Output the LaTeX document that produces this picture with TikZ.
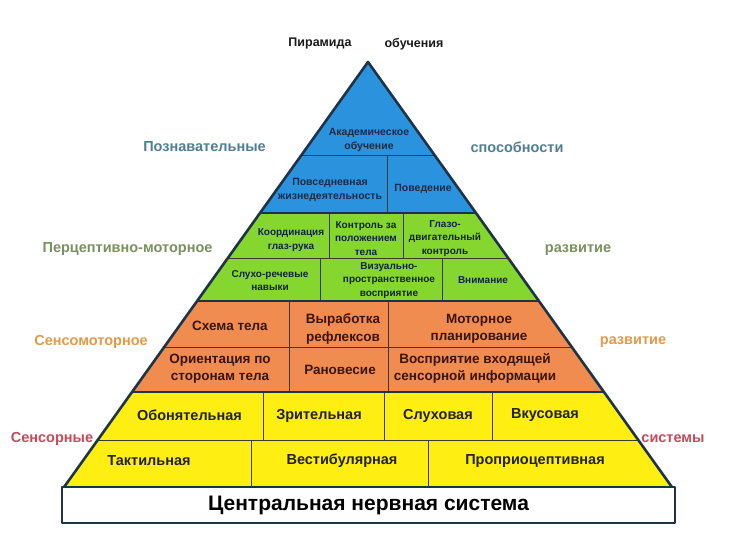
\documentclass[tikz,border=0pt]{standalone}
\usepackage{fontspec}
\setmainfont{Liberation Sans}
\definecolor{tierblue}{HTML}{2B93DD}
\definecolor{tiergreen}{HTML}{86D630}
\definecolor{tierorange}{HTML}{F08C4F}
\definecolor{tieryellow}{HTML}{FFEE12}
\definecolor{edgecol}{HTML}{1F3346}
\definecolor{innercol}{HTML}{3A3A30}
\definecolor{txtblue}{HTML}{1A2C4A}
\definecolor{txtgreen}{HTML}{13233A}
\definecolor{txtorange}{HTML}{3C1408}
\definecolor{txtyellow}{HTML}{222222}
\definecolor{cogcol}{HTML}{4F7F90}
\definecolor{percol}{HTML}{7A9060}
\definecolor{sencol}{HTML}{E39A4A}
\definecolor{sysscol}{HTML}{C84A5A}
\begin{document}
\begin{tikzpicture}[x=1pt,y=-1pt,
  declare function={lx(\t)=368-0.715*(\t-62); rx(\t)=368+0.715*(\t-62);},
  outer/.style={draw=edgecol,line width=2.6pt,line join=round},
  inner/.style={draw=innercol,line width=0.8pt},
  lblue/.style={font=\bfseries\fontsize{10.5}{14}\selectfont,text=txtblue,align=center,inner sep=0pt},
  lgreen/.style={font=\bfseries\fontsize{10}{13.5}\selectfont,text=txtgreen,align=center,inner sep=0pt},
  lorange/.style={font=\bfseries\fontsize{13.5}{17.5}\selectfont,text=txtorange,align=center,inner sep=0pt},
  lyellow/.style={font=\bfseries\fontsize{14.5}{17}\selectfont,text=txtyellow,align=center,inner sep=0pt},
  side/.style={font=\bfseries\fontsize{14.5}{17}\selectfont,inner sep=0pt},
  ttl/.style={font=\bfseries\fontsize{12.5}{15}\selectfont,text=black!90,inner sep=0pt}]
\useasboundingbox (0,0) rectangle (746,553);
\fill[white] (0,0) rectangle (746,553);
% tiers
\fill[tierblue] (368,62) -- ({rx(213)},213) -- ({lx(213)},213) -- cycle;
\fill[tiergreen] ({lx(213)},213) -- ({rx(213)},213) -- ({rx(301)},301) -- ({lx(301)},301) -- cycle;
\fill[tierorange] ({lx(301)},301) -- ({rx(301)},301) -- ({rx(392)},392) -- ({lx(392)},392) -- cycle;
\fill[tieryellow] ({lx(392)},392) -- ({rx(392)},392) -- ({rx(487)},487) -- ({lx(487)},487) -- cycle;
% inner lines
\draw[inner] ({lx(155)},155) -- ({rx(155)},155);
\draw[inner] (387,155) -- (387,213);
\draw[inner] ({lx(258)},258) -- ({rx(258)},258);
\draw[inner] (329,213) -- (329,258) (403,213) -- (403,258);
\draw[inner] (320,258) -- (320,301) (442,258) -- (442,301);
\draw[inner] ({lx(347)},347) -- ({rx(347)},347);
\draw[inner] (289,301) -- (289,392) (388,301) -- (388,392);
\draw[inner] ({lx(440)},440) -- ({rx(440)},440);
\draw[inner] (263,392) -- (263,440) (384,392) -- (384,440) (492,392) -- (492,440);
\draw[inner] (251,440) -- (251,487) (428,440) -- (428,487);
% outer lines
\draw[outer] ({lx(213)},213) -- ({rx(213)},213);
\draw[outer] ({lx(301)},301) -- ({rx(301)},301);
\draw[outer] ({lx(392)},392) -- ({rx(392)},392);
\draw[outer] ({lx(487)},487) -- (368,62) -- ({rx(487)},487);
\draw[outer,fill=white] (62,487) rectangle (675,523);
% title
\node[ttl] (t1) at (320,44) {Пирамида};
\node[ttl] (t2) at (414,44) {обучения};
% side labels
\node[side,text=cogcol] (s1) at (204.5,147) {Познавательные};
\node[side,text=cogcol] (s2) at (517,147) {способности};
\node[side,text=percol] (s3) at (127.5,249) {Перцептивно-моторное};
\node[side,text=percol] (s4) at (578,250) {развитие};
\node[side,text=sencol] (s5) at (91,342) {Сенсомоторное};
\node[side,text=sencol] (s6) at (633,342) {развитие};
\node[side,text=sysscol] (s7) at (52,439) {Сенсорные};
\node[side,text=sysscol] (s8) at (673,439) {системы};
% blue
\node[lblue] (b1) at (369,139.5) {Академическое\\обучение};
\node[lblue] (b2) at (330,190) {Повседневная\\жизнедеятельность};
\node[lblue] (b3) at (423,189) {Поведение};
% green
\node[lgreen] (g1) at (291,240) {Координация\\глаз-рука};
\node[lgreen] (g2) at (366,238.5) {Контроль за\\положением\\тела};
\node[lgreen] (g3) at (445,238.5) {Глазо-\\двигательный\\контроль};
\node[lgreen] (g4) at (270,280.5) {Слухо-речевые\\навыки};
\node[lgreen] (g5) at (389,280.5) {Визуально-\\пространственное\\восприятие};
\node[lgreen] (g6) at (483,280) {Внимание};
% orange
\node[lorange] (o1) at (230,326) {Схема тела};
\node[lorange] (o2) at (343,329) {Выработка\\рефлексов};
\node[lorange] (o3) at (479,329) {Моторное\\планирование};
\node[lorange] (o4) at (220,368.5) {Ориентация по\\сторонам тела};
\node[lorange] (o5) at (340,370) {Рановесие};
\node[lorange] (o6) at (475,368.5) {Восприятие входящей\\сенсорной информации};
% yellow
\node[lyellow] (y1) at (189.5,415) {Обонятельная};
\node[lyellow] (y2) at (319,416) {Зрительная};
\node[lyellow] (y3) at (438,416) {Слуховая};
\node[lyellow] (y4) at (545,415) {Вкусовая};
\node[lyellow] (y5) at (149,461) {Тактильная};
\node[lyellow] (y6) at (342,461) {Вестибулярная};
\node[lyellow] (y7) at (535,461) {Проприоцептивная};
% base
\node[font=\bfseries\fontsize{21}{24}\selectfont,text=black,inner sep=0pt] (cns) at (368.5,505) {Центральная нервная система};
\end{tikzpicture}
\end{document}
